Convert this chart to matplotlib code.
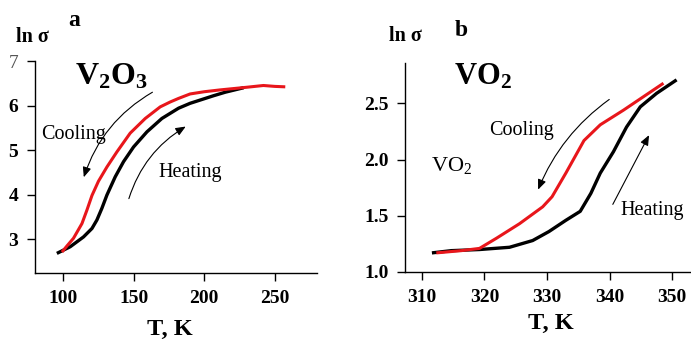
import matplotlib
matplotlib.use("Agg")
import matplotlib.pyplot as plt
from matplotlib.patches import FancyArrowPatch

plt.rcParams['font.family'] = ['Liberation Serif', 'DejaVu Serif']
plt.rcParams['mathtext.fontset'] = 'custom'
plt.rcParams['mathtext.rm'] = 'Liberation Serif'
plt.rcParams['mathtext.bf'] = 'Liberation Serif:bold'

# Panel a: V2O3
a_heat_T = [95.5, 105, 114.4, 120.4, 123.9, 127.4, 131, 136.9, 142.8, 149.9, 159.4, 170, 181.8, 190, 206.6, 215, 228]
a_heat_ln = [2.68, 2.83, 3.05, 3.24, 3.43, 3.69, 3.99, 4.40, 4.74, 5.07, 5.41, 5.71, 5.94, 6.05, 6.22, 6.30, 6.40]
a_cool_T = [99.1, 103, 107.3, 113.3, 116.8, 120.4, 125, 131, 138.1, 147.5, 158.2, 168.8, 175.9, 181.8, 190, 200,
            211, 230, 242, 250, 257.5]
a_cool_ln = [2.71, 2.86, 3.02, 3.35, 3.65, 3.98, 4.30, 4.62, 4.96, 5.38, 5.71, 5.97, 6.08, 6.16, 6.26, 6.31,
             6.35, 6.41, 6.45, 6.43, 6.42]
a_xticks = [100, 150, 200, 250]
a_yticks = [3, 4, 5, 6, 7]

# Panel b: VO2
b_heat_T = [311.6, 314.7, 319.2, 324, 327.7, 330.3, 333, 335.3, 337, 338.5, 340.6, 342.7, 344.9, 347.5, 350.7]
b_heat_ln = [1.17, 1.19, 1.20, 1.22, 1.28, 1.36, 1.46, 1.54, 1.70, 1.88, 2.07, 2.29, 2.47, 2.59, 2.71]
b_cool_T = [312.3, 316.3, 319.2, 321.9, 325.6, 329.3, 330.8, 333, 335.9, 338.5, 342.2, 345.4, 348.6]
b_cool_ln = [1.17, 1.19, 1.21, 1.30, 1.43, 1.58, 1.67, 1.88, 2.17, 2.31, 2.44, 2.56, 2.68]
b_xticks = [310, 320, 330, 340, 350]
b_yticks = [1.0, 1.5, 2.0, 2.5]
b_yticklabels = ['1.0', '1.5', '2.0', '2.5']

W, H = 691, 343
fig = plt.figure(figsize=(W / 100, H / 100), dpi=100)


def fx(px):
    return px / W


def fy(py):
    return 1 - py / H


def style(ax):
    for s in ['top', 'right']:
        ax.spines[s].set_visible(False)
    for s in ['left', 'bottom']:
        ax.spines[s].set_linewidth(1.0)
    ax.tick_params(direction='out', length=6, width=1.0, labelsize=14, pad=6)
    for lab in ax.get_xticklabels() + ax.get_yticklabels():
        lab.set_fontweight('bold')


axa = fig.add_axes([fx(35), fy(273), fx(317) - fx(35), fy(61) - fy(273)])
axa.plot(a_heat_T, a_heat_ln, color='black', lw=2.4, solid_capstyle='butt', solid_joinstyle='round')
axa.plot(a_cool_T, a_cool_ln, color='#e8161b', lw=2.2, solid_capstyle='butt', solid_joinstyle='round')
axa.set_xlim(80, 280)
axa.set_ylim(2.24, 7.0)
axa.set_xticks(a_xticks)
axa.set_yticks(a_yticks)
style(axa)
axa.get_yticklabels()[-1].set_fontweight('normal')
axa.get_yticklabels()[-1].set_color('#555555')

axa.add_patch(FancyArrowPatch((165, 6.33), (114, 4.33), connectionstyle='arc3,rad=0.2',
                              arrowstyle='-|>,head_length=6,head_width=2.5', color='black', lw=0.8))
axa.add_patch(FancyArrowPatch((146, 3.85), (188.6, 5.56), connectionstyle='arc3,rad=-0.2',
                              arrowstyle='-|>,head_length=6,head_width=2.5', color='black', lw=0.8))

axb = fig.add_axes([fx(405), fy(272), fx(691) - fx(405), fy(63) - fy(272)])
axb.plot(b_heat_T, b_heat_ln, color='black', lw=2.4, solid_capstyle='butt', solid_joinstyle='round')
axb.plot(b_cool_T, b_cool_ln, color='#e8161b', lw=2.2, solid_capstyle='butt', solid_joinstyle='round')
axb.set_xlim(307.3, 353)
axb.set_ylim(1.0, 2.86)
axb.set_xticks(b_xticks)
axb.set_yticks(b_yticks)
axb.set_yticklabels(b_yticklabels)
style(axb)
for lab in axb.get_xticklabels() + axb.get_yticklabels():
    lab.set_fontweight('bold')

axb.add_patch(FancyArrowPatch((340.3, 2.55), (328.4, 1.71), connectionstyle='arc3,rad=0.15',
                              arrowstyle='-|>,head_length=6,head_width=2.5', color='black', lw=0.8))
axb.add_patch(FancyArrowPatch((340.3, 1.58), (346.5, 2.24), connectionstyle='arc3,rad=0.0',
                              arrowstyle='-|>,head_length=6,head_width=2.5', color='black', lw=0.8))

# Texts panel a
fig.text(fx(74), fy(20), 'a', fontsize=17, fontweight='bold', ha='center', va='center')
fig.text(fx(32), fy(37), 'ln σ', fontsize=14.5, fontweight='bold', ha='center', va='center')
fig.text(fx(111), fy(77), r'$\mathbf{V_2O_3}$', fontsize=23, ha='center', va='center')
fig.text(fx(74), fy(135), 'Cooling', fontsize=14.5, ha='center', va='center')
fig.text(fx(190), fy(172), 'Heating', fontsize=14.5, ha='center', va='center')
fig.text(fx(170), fy(329), 'T, K', fontsize=17.5, fontweight='bold', ha='center', va='center')

# Texts panel b
fig.text(fx(405), fy(36), 'ln σ', fontsize=14.5, fontweight='bold', ha='center', va='center')
fig.text(fx(461), fy(30), 'b', fontsize=17, fontweight='bold', ha='center', va='center')
fig.text(fx(483), fy(77), r'$\mathbf{VO_2}$', fontsize=22, ha='center', va='center')
fig.text(fx(452), fy(165), r'$\mathrm{VO_2}$', fontsize=16, ha='center', va='center')
fig.text(fx(521), fy(130), 'Cooling', fontsize=14.5, ha='center', va='center')
fig.text(fx(652), fy(211), 'Heating', fontsize=14.5, ha='center', va='center')
fig.text(fx(551), fy(323), 'T, K', fontsize=17.5, fontweight='bold', ha='center', va='center')

fig.savefig('out.png', dpi=100)
